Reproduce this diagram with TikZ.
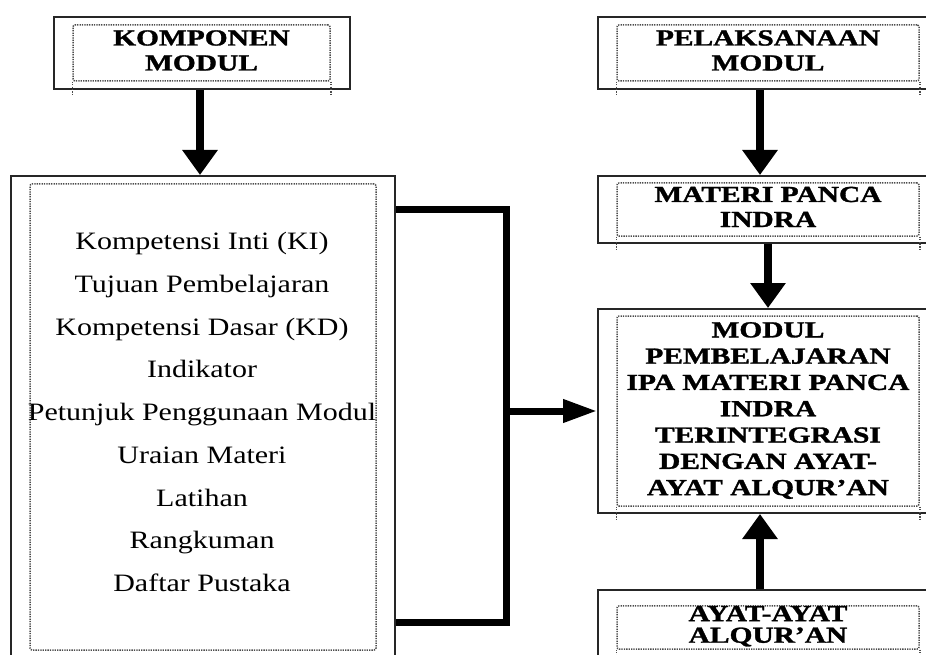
\documentclass[tikz,border=0pt]{standalone}
\usepackage{fontspec}
\setmainfont{Liberation Serif}
\newfontfamily\hdfont[BoldFeatures={FakeBold=1.2}]{Liberation Serif}
\usetikzlibrary{arrows.meta,positioning}

\newcommand{\hdtext}[2][25]{{\fontsize{23}{#1}\hdfont\bfseries
  \scalebox{1.28}[1]{\begin{tabular}{@{}c@{}}#2\end{tabular}}}}

\tikzset{
  outerbox/.style={draw=black!85, line width=2pt, inner sep=0pt},
  innerbox/.style={draw=black!70, line width=1.5pt, dash pattern=on 1.3pt off 1.1pt,
    rounded corners=2pt, inner sep=0pt, align=center},
  listtext/.style={anchor=base, inner sep=0pt, font=\fontsize{25}{30}\selectfont},
  flow/.style={line width=8pt, -{Triangle[width=34pt,length=25pt]}},
  side/.style={line width=7pt, -{Triangle[width=22pt,length=34pt]}},
  bar/.style={line width=7pt, line join=miter}
}

\begin{document}
\begin{tikzpicture}[x=1pt,y=-1pt]
    \clip (0,0) rectangle (926,655);
    \fill[white] (0,0) rectangle (926,655);
    % outer boxes
    \node[outerbox, minimum width=296pt, minimum height=72pt] (komp) at (202,53) {};
    \node[outerbox, minimum width=384pt, minimum height=494pt] (isi) at (203,423) {};
    \node[outerbox, minimum width=362pt, minimum height=72pt] (pelak) at (779,53) {};
    \node[outerbox, minimum width=362pt, minimum height=67pt] (materi) at (779,209.5) {};
    \node[outerbox, minimum width=362pt, minimum height=204pt] (modul) at (779,411) {};
    \node[outerbox, minimum width=362pt, minimum height=110pt] (ayat) at (779,645) {};
    % dotted inner boxes with the headings
    \node[innerbox, minimum width=257pt, minimum height=56pt] (kompIn) at (201.5,53)
        {\hdtext{KOMPONEN\\MODUL}};
    \node[innerbox, minimum width=346pt, minimum height=466pt] (isiIn) at (203,417) {};
    \node[innerbox, minimum width=302pt, minimum height=56pt] (pelakIn) at (768,53)
        {\hdtext{PELAKSANAAN\\MODUL}};
    \node[innerbox, minimum width=302pt, minimum height=53pt] (materiIn) at (768,209.5)
        {\hdtext{MATERI PANCA\\INDRA}};
    \node[innerbox, minimum width=302pt, minimum height=190pt] (modulIn) at (768,411)
        {\hdtext[26.3]{MODUL\\PEMBELAJARAN\\IPA MATERI PANCA\\INDRA\\TERINTEGRASI\\DENGAN AYAT-\\AYAT ALQUR’AN}};
    \node[innerbox, minimum width=302pt, minimum height=41pt] (ayatIn) at (768,627.5)
        {\hdtext[21]{AYAT-AYAT\\ALQUR’AN}};
    % dotted sides running on below the boxes
    \foreach \b in {kompIn, pelakIn, materiIn, modulIn, ayatIn} {
        \draw[innerbox] (\b.south west) -- ++(0,14);
        \draw[innerbox] (\b.south east) -- ++(0,14);
    }
    % content list
    \foreach \entry [count=\i] in {Kompetensi Inti (KI), Tujuan Pembelajaran,
        Kompetensi Dasar (KD), Indikator, Petunjuk Penggunaan Modul, Uraian Materi,
        Latihan, Rangkuman, Daftar Pustaka}
        \node[listtext] (item\i) at (202,{249.5+42.75*(\i-1)}) {\scalebox{1.2}[1]{\entry}};
    % connectors
    \draw[flow] (komp.south -| 200,0) -- (isi.north -| 200,0);
    \draw[flow] ([xshift=-19pt]pelak.south) -- ([xshift=-19pt]materi.north);
    \draw[flow] ([xshift=-11pt]materi.south) -- ([xshift=-11pt]modul.north);
    \draw[flow] ([xshift=-19pt]ayat.north) -- ([xshift=-19pt]modul.south);
    \coordinate (brkT) at (506,210);
    \coordinate (brkB) at (506,622);
    \draw[bar] (isi.east |- brkT) -- (brkT) -- (brkB) -- (isi.east |- brkB);
    \draw[side] (brkT |- modul.west) -- (modul.west);
\end{tikzpicture}
\end{document}
